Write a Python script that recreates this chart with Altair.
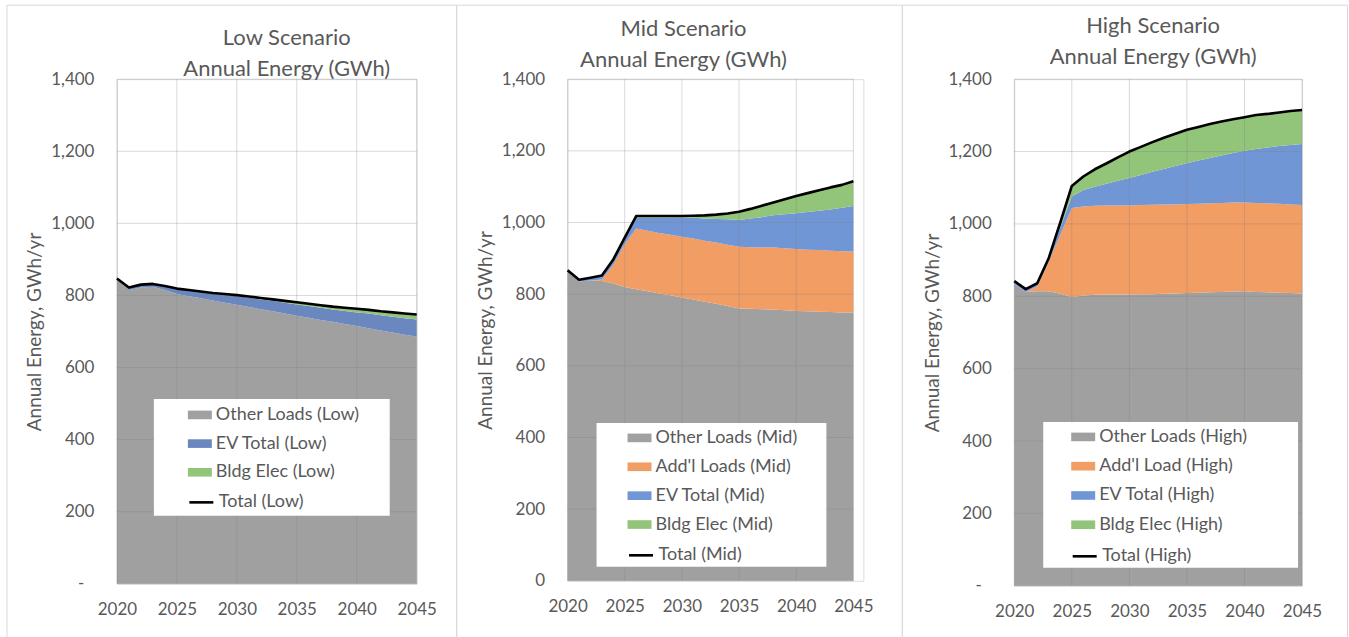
import altair as alt
import pandas as pd

# ---------------------------------------------------------------- data
YEARS = list(range(2020, 2046))
X_TICKS = [2020, 2025, 2030, 2035, 2040, 2045]
Y_TICKS = [0, 200, 400, 600, 800, 1000, 1200, 1400]

LOW_OTHER = [845, 815, 822, 824, 815, 804, 798, 792, 786, 780, 774, 768, 762,
             756, 750, 744, 738, 732, 727, 721, 715, 709, 703, 697, 691, 686]
LOW_EV = [2, 7, 8, 8, 11, 14, 16, 18, 19, 22, 24, 26, 27,
          29, 30, 31, 33, 34, 34, 36, 38, 41, 42, 44, 46, 47]
LOW_BLDG = [0, 0, 0, 0, 0, 1, 1, 1, 2, 2, 3, 3, 4,
            4, 5, 6, 6, 7, 8, 9, 10, 10, 11, 12, 13, 14]

MID_OTHER = [863, 835, 838, 837, 830, 820, 814, 808, 802, 797, 791, 785, 779,
             773, 767, 760, 759, 758, 757, 755, 753, 752, 751, 750, 749, 749]
MID_ADDL = [0, 0, 0, 4, 52, 120, 169, 169, 169, 169, 169, 170, 170,
            171, 171, 172, 172, 172, 173, 173, 173, 172, 172, 171, 171, 170]
MID_EV = [2, 4, 6, 9, 12, 15, 30, 36, 42, 48, 54, 58, 62,
          66, 71, 75, 80, 85, 90, 95, 100, 105, 110, 115, 121, 127]
MID_BLDG = [2, 1, 2, 2, 3, 3, 5, 5, 5, 4, 4, 6, 9,
            12, 16, 23, 27, 32, 36, 42, 48, 53, 57, 62, 64, 69]

HIGH_OTHER = [835, 812, 814, 814, 807, 798, 802, 804, 805, 805, 805, 806, 806,
              807, 808, 809, 810, 811, 812, 813, 814, 812, 811, 810, 809, 808]
HIGH_ADDL = [0, 0, 14, 83, 163, 246, 246, 246, 246, 246, 246, 246, 247,
             247, 246, 246, 246, 246, 246, 246, 245, 246, 246, 246, 245, 244]
HIGH_EV = [5, 6, 6, 8, 20, 32, 46, 53, 60, 68, 76, 83, 91,
           98, 106, 113, 119, 125, 131, 137, 143, 149, 154, 159, 164, 169]
HIGH_BLDG = [2, 2, 2, 1, 14, 29, 37, 48, 56, 65, 73, 78, 82,
             86, 89, 92, 93, 94, 94, 93, 93, 94, 93, 93, 94, 94]

# ---------------------------------------------------------------- style
FONT = "Lato"
TEXT = "#595959"
GREY = "#a0a0a0"
ORANGE = "#f29d63"
BLUE = "#7096d6"
BLUE_LOW = "#6a87c0"
GREEN = "#92c47a"
FRAME = "#d9d9d9"
RECT_SYMBOL = "M-1,-0.36H1V0.36H-1Z"
LEGEND_FONT_SIZE = 18


def one_row():
    return alt.Data(values=[{}])


def panel(scenario, names, colors, series, total_name, zero_label, size,
          title_pos, legend_pos, box, frame):
    # size: (panel width, plotted width, height); any extra width on the
    # right is left empty so the next panel starts further along
    w, pw, h = size
    rows = []
    for k, (name, vals) in enumerate(zip(names, series)):
        for yr, v in zip(YEARS, vals):
            rows.append({"year": yr, "series": name, "value": v, "order": k})
    df = pd.DataFrame(rows)
    tot = pd.DataFrame({"year": YEARS,
                        "total": [sum(t) for t in zip(*series)],
                        "label": total_name})

    xs = alt.Scale(domain=[2020, 2045], nice=False, zero=False, range=[0, pw])
    ys = alt.Scale(domain=[0, 1400], nice=False)

    x_axis = alt.Axis(values=X_TICKS, format="d", title=None, grid=False,
                      domain=False, ticks=False, labelPadding=18,
                      labelFlush=False, labelOverlap=False,
                      labelFont=FONT, labelFontSize=17, labelColor=TEXT)
    # the zero tick is written as a dash in the accounting style
    zero_pad = 33 if zero_label == "-" else 23
    y_axis = alt.Axis(values=Y_TICKS, title="Annual Energy, GWh/yr",
                      labelExpr=("datum.value == 0 ? '%s' : format(datum.value, ',')"
                                 % zero_label),
                      labelPadding={"condition": {"test": "datum.value == 0",
                                                  "value": zero_pad},
                                    "value": 23},
                      grid=False, domain=False, ticks=False,
                      labelFlush=False, labelOverlap=False,
                      labelFont=FONT, labelFontSize=17, labelColor=TEXT,
                      titleFont=FONT, titleFontSize=19, titleColor=TEXT,
                      titleFontWeight="normal", titlePadding=6)

    lx, ly, ly2, pitch = legend_pos
    area = alt.Chart(df).mark_area(interpolate="linear").encode(
        x=alt.X("year:Q", scale=xs, axis=x_axis),
        y=alt.Y("value:Q", stack="zero", scale=ys, axis=y_axis),
        color=alt.Color("series:N",
                        scale=alt.Scale(domain=names, range=colors),
                        legend=alt.Legend(title=None, orient="none",
                                          legendX=lx, legendY=ly,
                                          symbolType=RECT_SYMBOL,
                                          symbolSize=576, symbolStrokeWidth=0,
                                          symbolOpacity=1,
                                          labelFont=FONT,
                                          labelFontSize=LEGEND_FONT_SIZE,
                                          labelColor=TEXT, labelLimit=300,
                                          labelOffset=4, rowPadding=pitch - 21,
                                          padding=0)),
        order=alt.Order("order:Q"),
    )

    hgrid = alt.Chart(pd.DataFrame({"value": Y_TICKS})).mark_rule(
        color="#7f7f7f", opacity=0.3, strokeWidth=1
    ).encode(y=alt.Y("value:Q", scale=ys, axis=y_axis),
             x=alt.value(0), x2=alt.value(pw))
    vgrid = alt.Chart(pd.DataFrame({"year": X_TICKS})).mark_rule(
        color="#7f7f7f", opacity=0.3, strokeWidth=1
    ).encode(x=alt.X("year:Q", scale=xs, axis=x_axis))

    line = alt.Chart(tot).mark_line(strokeWidth=2.6, strokeJoin="round").encode(
        x=alt.X("year:Q", scale=xs, axis=x_axis),
        y=alt.Y("total:Q", scale=ys, axis=y_axis),
        stroke=alt.Stroke("label:N",
                          scale=alt.Scale(domain=[total_name], range=["black"]),
                          legend=alt.Legend(title=None, orient="none",
                                            legendX=lx, legendY=ly2,
                                            symbolType="stroke", symbolSize=576,
                                            symbolStrokeWidth=2.6,
                                            labelFont=FONT,
                                            labelFontSize=LEGEND_FONT_SIZE,
                                            labelColor=TEXT, labelLimit=300,
                                            labelOffset=4, padding=0)),
    )

    bx1, bx2, by1, by2 = box
    legend_box = alt.Chart(one_row()).mark_rect(color="white").encode(
        x=alt.value(bx1), x2=alt.value(bx2), y=alt.value(by1), y2=alt.value(by2))

    tx, ty = title_pos
    title = alt.Chart(one_row()).mark_text(
        font=FONT, fontSize=22, color=TEXT, align="center",
        baseline="alphabetic", lineHeight=31
    ).encode(x=alt.value(tx), y=alt.value(ty),
             text=alt.value([scenario + " Scenario", "Annual Energy (GWh)"]))

    fl, fr, ft, fb = frame
    frame_left = alt.Chart(one_row()).mark_rule(color=FRAME, strokeWidth=1).encode(
        x=alt.value(fl), y=alt.value(ft), y2=alt.value(fb))
    frame_right = alt.Chart(one_row()).mark_rule(color=FRAME, strokeWidth=1).encode(
        x=alt.value(fr), y=alt.value(ft), y2=alt.value(fb))
    frame_top = alt.Chart(one_row()).mark_rule(color=FRAME, strokeWidth=1).encode(
        x=alt.value(fl), x2=alt.value(fr), y=alt.value(ft))

    return alt.layer(area, hgrid, vgrid, line, legend_box, title,
                     frame_left, frame_right, frame_top).properties(width=w, height=h)


low = panel("Low",
            ["Other Loads (Low)", "EV Total (Low)", "Bldg Elec (Low)"],
            [GREY, BLUE_LOW, GREEN],
            [LOW_OTHER, LOW_EV, LOW_BLDG],
            "Total (Low)", "-", (300, 300, 505),
            (170, -34), (71, 324, 410, 28.7), (37, 273, 320, 437),
            (-110, 340, -74, 558))

mid = panel("Mid",
            ["Other Loads (Mid)", "Add'l Loads (Mid)", "EV Total (Mid)", "Bldg Elec (Mid)"],
            [GREY, ORANGE, BLUE, GREEN],
            [MID_OTHER, MID_ADDL, MID_EV, MID_BLDG],
            "Total (Mid)", "0", (296, 286, 502),
            (116, -43), (60, 347, 463, 28.9), (29, 259, 344, 488),
            (-111, 335, -74, 558))

high = panel("High",
             ["Other Loads (High)", "Add'l Load (High)", "EV Total (High)", "Bldg Elec (High)"],
             [GREY, ORANGE, BLUE, GREEN],
             [HIGH_OTHER, HIGH_ADDL, HIGH_EV, HIGH_BLDG],
             "Total (High)", "-", (288, 288, 507),
             (139, -46), (57, 346, 464, 29.3), (29, 284, 343, 489),
             (-112, 333.5, -74, 558))

chart = alt.hconcat(low, mid, high, spacing=151, bounds="flush").properties(
    padding={"left": 6, "top": 4, "right": 0, "bottom": 0}
).resolve_scale(
    color="independent", stroke="independent"
).configure_view(stroke="transparent").configure(font=FONT)

chart.save("out.html", embed_options={"renderer": "svg", "actions": False})
